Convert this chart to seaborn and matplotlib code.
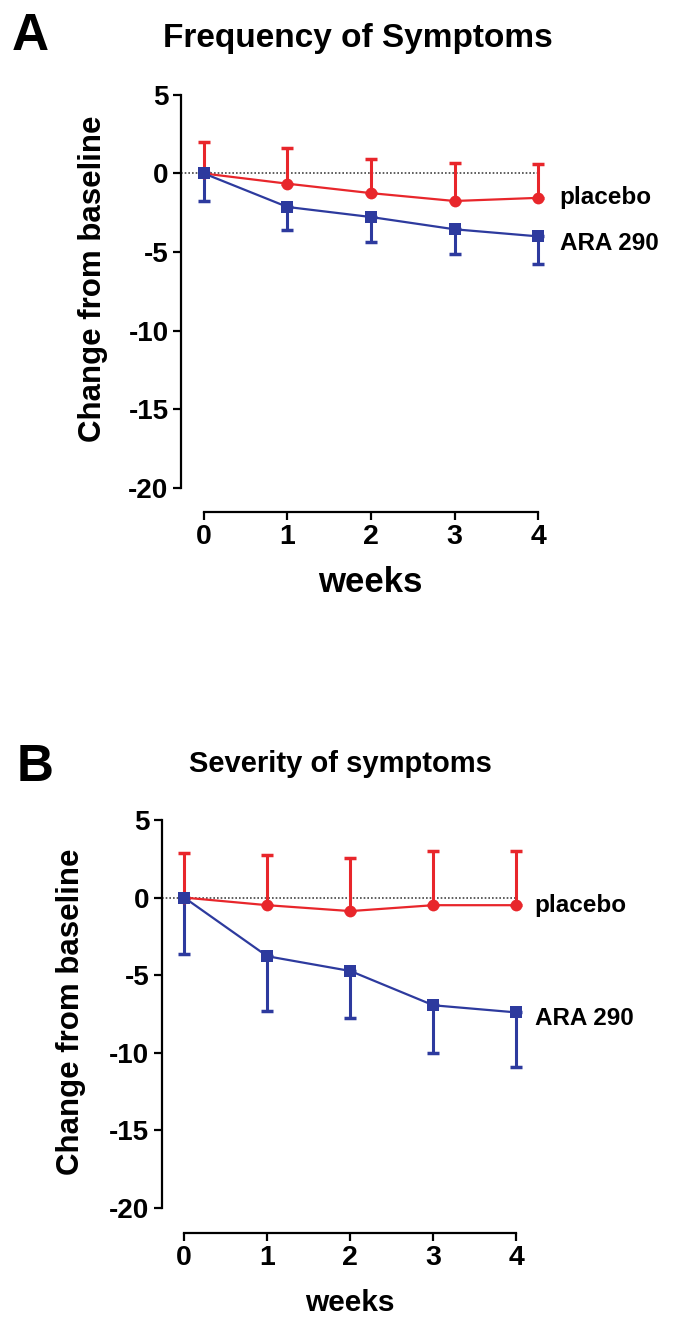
import numpy as np
import pandas as pd
import matplotlib
matplotlib.use("Agg")
import matplotlib.pyplot as plt
import seaborn as sns

# ---- data ----
weeks = [0, 1, 2, 3, 4]
groups = ["placebo", "ARA 290"]

freq_placebo = [0.0, -0.65, -1.25, -1.75, -1.55]
freq_placebo_err = [2.0, 2.28, 2.14, 2.4, 2.16]
freq_ara = [0.0, -2.13, -2.77, -3.55, -4.0]
freq_ara_err = [1.75, 1.49, 1.56, 1.55, 1.73]

sev_placebo = [0.0, -0.49, -0.87, -0.49, -0.49]
sev_placebo_err = [2.87, 3.26, 3.42, 3.48, 3.48]
sev_ara = [0.0, -3.78, -4.73, -6.94, -7.4]
sev_ara_err = [3.63, 3.5, 3.05, 3.06, 3.5]

yticks = [5, 0, -5, -10, -15, -20]
titles = ["Frequency of Symptoms", "Severity of symptoms"]
panel_letters = ["A", "B"]
ylabel = "Change from baseline"
xlabel = "weeks"

RED = "#e8262b"
BLUE = "#2d3a9e"

sns.set_theme(style="white")
plt.rcParams["font.family"] = ["Liberation Sans", "DejaVu Sans"]
plt.rcParams["font.weight"] = "bold"
for k in ["text.color", "axes.labelcolor", "xtick.color", "ytick.color"]:
    plt.rcParams[k] = "black"

fig = plt.figure(figsize=(6.82, 13.29), dpi=100)

axA = fig.add_axes([0.2654, 0.6148, 0.5358, 0.3138])
axB = fig.add_axes([0.2375, 0.0725, 0.532, 0.3105])

panels = [
    (axA, freq_placebo, freq_placebo_err, freq_ara, freq_ara_err, (-0.275, 4.1), (-21.53, 5.0),
     (-0.24, 0.56), (0.517, -0.13), 25, 4.26, (0.0, -0.45)),
    (axB, sev_placebo, sev_placebo_err, sev_ara, sev_ara_err, (-0.268, 4.1), (-21.59, 5.0),
     (-0.25, 0.535), (0.517, -0.137), 21.5, 4.22, (0.0, -0.38)),
]

for ax, pl, ple, ar, are, xl, yl, ylc, xlc, xls, labx, offs in panels:
    df = pd.DataFrame({
        "week": weeks * 2,
        "value": pl + ar,
        "group": [groups[0]] * len(weeks) + [groups[1]] * len(weeks),
    })
    # zero reference line
    ax.plot([xl[0], 4], [0, 0], ls=(0, (1, 1.2)), color="#444444", lw=1.2, zorder=1)
    # one-sided error bars
    ax.errorbar(weeks, pl, yerr=[np.zeros(len(ple)), ple], fmt="none", ecolor=RED,
                elinewidth=2.2, capsize=4, capthick=2.5, zorder=2)
    ax.errorbar(weeks, ar, yerr=[are, np.zeros(len(are))], fmt="none", ecolor=BLUE,
                elinewidth=2.2, capsize=4, capthick=2.5, zorder=3)
    sns.lineplot(data=df, x="week", y="value", hue="group", style="group",
                 palette={groups[0]: RED, groups[1]: BLUE},
                 markers={groups[0]: "o", groups[1]: "s"}, dashes=False,
                 markersize=8.5, markeredgewidth=0, linewidth=1.6,
                 legend=False, ax=ax, zorder=4)
    ax.text(labx, pl[-1] + offs[0], groups[0], fontsize=17.5, fontweight="bold",
            va="center", ha="left", clip_on=False)
    ax.text(labx, ar[-1] + offs[1], groups[1], fontsize=17.5, fontweight="bold",
            va="center", ha="left", clip_on=False)

    ax.set_xlim(*xl)
    ax.set_ylim(*yl)
    ax.set_xticks(weeks)
    ax.set_yticks(yticks)
    ax.set_xticklabels([str(w) for w in weeks], fontsize=20.5, fontweight="bold")
    ax.set_yticklabels([str(t) for t in yticks], fontsize=20, fontweight="bold")
    for s in ["top", "right"]:
        ax.spines[s].set_visible(False)
    ax.spines["left"].set_bounds(-20, 5)
    ax.spines["bottom"].set_bounds(0, 4)
    for s in ["left", "bottom"]:
        ax.spines[s].set_color("black")
        ax.spines[s].set_linewidth(1.6)
    ax.tick_params(axis="both", which="both", direction="out", length=5.5, width=1.6,
                   color="black", pad=3.5, left=True, bottom=True)
    ax.set_ylabel(ylabel, fontsize=22.5, fontweight="bold")
    ax.set_xlabel(xlabel, fontsize=xls, fontweight="bold")
    ax.yaxis.set_label_coords(*ylc)
    ax.xaxis.set_label_coords(*xlc)
    ax.yaxis.label.set_va("center")
    ax.xaxis.label.set_va("top")
    ax.patch.set_alpha(0)

fig.text(358 / 682, 1 - 39 / 1329, titles[0], fontsize=24, fontweight="bold", ha="center", va="center")
fig.text(340 / 682, 1 - 764 / 1329, titles[1], fontsize=21, fontweight="bold", ha="center", va="center")
fig.text(12 / 682, 1 - 36 / 1329, panel_letters[0], fontsize=37, fontweight="bold", ha="left", va="center")
fig.text(17 / 682, 1 - 768 / 1329, panel_letters[1], fontsize=37, fontweight="bold", ha="left", va="center")

fig.savefig("out.png", dpi=100)
